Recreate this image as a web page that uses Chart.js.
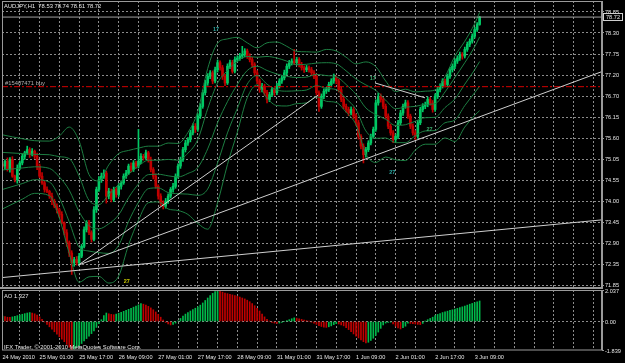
<!DOCTYPE html>
<html>
<head>
<meta charset="utf-8">
<script src="https://cdn.jsdelivr.net/npm/chart.js@4.4.1/dist/chart.umd.min.js"></script>
<style>
  body { margin: 0; background: #000; width: 625px; height: 363px; overflow: hidden; position: relative; }
  canvas { position: absolute; left: 0; }
  #priceChart { top: 0; }
  #aoChart { top: 289px; }
</style>
</head>
<body>
<canvas id="priceChart" width="625" height="289"></canvas>
<canvas id="aoChart" width="625" height="74"></canvas>
<script>
// AUDJPY H1, one entry per hourly bar (bar 0 = 24 May 2010 10:00)
const opens = [
  74.95,74.90,75.02,74.81,75.07,74.64,74.55,74.85,74.98,75.15,
  75.24,75.32,75.19,75.28,75.15,74.90,74.64,74.47,74.30,74.25,
  74.13,74.00,73.87,73.78,73.66,73.44,73.19,72.93,72.67,72.42,
  72.50,72.42,72.59,72.84,73.27,73.44,73.19,73.02,73.78,74.30,
  74.55,74.64,74.72,74.13,74.25,74.04,74.30,74.17,74.38,74.47,
  74.64,74.72,74.90,74.81,74.98,74.90,75.02,75.15,75.11,75.24,
  75.07,74.81,74.64,74.38,74.13,73.95,73.87,74.00,74.13,74.30,
  74.38,74.64,74.90,75.07,75.32,75.49,75.58,75.75,75.92,75.84,
  76.18,76.43,76.78,77.03,77.20,77.29,77.08,77.37,77.55,77.42,
  77.20,77.03,77.46,77.55,77.33,77.63,77.67,77.72,77.76,77.85,
  77.72,77.63,77.50,77.29,77.08,76.86,76.95,76.78,76.61,76.73,
  76.86,76.78,76.95,77.08,77.16,77.29,77.46,77.55,77.59,77.55,
  77.63,77.50,77.42,77.37,77.42,77.37,77.29,77.20,76.78,76.43,
  76.69,76.82,76.86,76.99,77.08,77.16,77.08,76.86,76.61,76.43,
  76.35,76.26,76.35,76.18,76.01,75.66,75.41,75.19,75.32,75.49,
  75.66,75.84,76.52,76.69,76.61,76.43,76.18,75.92,75.75,75.58,
  75.66,76.01,76.26,76.43,76.52,76.18,75.92,75.75,75.66,76.01,
  76.35,76.43,76.48,76.61,76.52,76.35,76.69,76.86,76.95,77.08,
  76.99,77.20,77.37,77.46,77.59,77.67,77.76,77.72,77.89,78.02,
  78.10,78.23,78.40,78.53
];
const highs = [
  75.01,75.06,75.11,75.12,75.14,74.67,74.93,75.03,75.21,75.28,
  75.41,75.37,75.35,75.31,75.23,74.95,74.73,74.52,74.37,74.28,
  74.21,74.05,73.93,73.82,73.73,73.47,73.27,72.98,72.73,72.56,
  72.58,72.66,72.89,73.34,73.50,73.51,73.24,73.86,74.36,74.63,
  74.72,74.80,74.77,74.33,74.31,74.36,74.35,74.45,74.52,74.70,
  74.79,74.95,74.98,75.04,75.03,75.84,75.22,75.20,75.31,75.28,
  75.13,74.86,74.70,74.42,74.19,74.01,74.07,74.19,74.35,74.46,
  74.70,74.96,75.13,75.38,75.56,75.63,75.82,75.98,75.99,76.24,
  76.50,76.85,77.10,77.27,77.35,77.34,77.44,77.62,77.60,77.48,
  77.25,77.52,77.62,77.61,77.70,77.73,77.79,77.97,77.91,77.90,
  77.78,77.69,77.55,77.35,77.13,77.02,77.00,76.84,76.79,76.92,
  76.91,77.02,77.14,77.22,77.36,77.52,77.61,77.65,77.89,77.69,
  77.68,77.56,77.47,77.48,77.47,77.43,77.35,77.26,76.83,76.75,
  76.88,76.92,77.05,77.14,77.26,77.21,77.13,76.92,76.67,76.49,
  76.41,76.42,76.40,76.24,76.07,75.71,75.47,75.38,75.55,75.72,
  75.90,76.60,76.77,76.75,76.66,76.49,76.24,75.97,75.81,75.72,
  76.07,76.33,76.49,76.59,76.58,76.23,75.98,75.81,76.07,76.41,
  76.50,76.54,76.67,76.66,76.58,76.75,76.92,77.01,77.14,77.13,
  77.26,77.43,77.52,77.65,77.73,77.82,77.81,77.95,78.08,78.16,
  78.29,78.46,78.58,78.74
];
const lows = [
  74.85,74.82,74.77,74.74,74.61,74.49,74.46,74.81,74.93,75.07,
  75.20,75.12,75.16,75.09,74.81,74.60,74.43,74.23,74.22,74.07,
  73.91,73.83,73.70,73.59,73.41,73.13,72.84,72.58,72.12,72.33,
  72.36,72.36,72.55,72.80,73.21,73.14,72.95,72.98,73.71,74.25,
  74.48,74.58,73.95,74.06,73.98,73.99,74.10,74.12,74.31,74.43,
  74.58,74.68,74.75,74.76,74.84,74.85,74.96,75.05,75.07,75.00,
  74.75,74.57,74.33,74.05,73.88,73.80,73.82,73.94,74.08,74.23,
  74.33,74.59,74.84,75.02,75.26,75.43,75.52,75.70,75.76,75.79,
  76.12,76.38,76.72,76.97,77.14,77.01,77.03,77.31,77.36,77.12,
  76.96,76.99,77.40,77.28,77.29,77.57,77.61,77.66,77.70,77.66,
  77.57,77.44,77.22,77.01,76.79,76.80,76.71,76.52,76.55,76.68,
  76.71,76.73,76.90,77.02,77.11,77.24,77.40,77.49,77.50,77.49,
  77.44,77.36,77.30,77.32,77.31,77.23,77.14,76.72,76.30,76.38,
  76.63,76.76,76.81,76.93,77.02,77.01,76.80,76.55,76.37,76.28,
  76.19,76.21,76.11,75.94,75.59,75.34,74.98,75.13,75.27,75.44,
  75.61,75.79,76.46,76.54,76.37,76.12,75.86,75.69,75.50,75.52,
  75.60,75.96,76.20,76.38,76.12,75.86,75.69,75.58,75.61,75.96,
  76.29,76.37,76.42,76.46,76.28,76.30,76.63,76.80,76.90,76.92,
  76.94,77.15,77.31,77.40,77.53,77.61,77.64,77.67,77.84,77.96,
  78.05,78.18,78.35,78.51
];
const closes = [
  74.90,75.02,74.81,75.07,74.64,74.55,74.85,74.98,75.15,75.24,
  75.32,75.19,75.28,75.15,74.90,74.64,74.47,74.30,74.25,74.13,
  74.00,73.87,73.78,73.66,73.44,73.19,72.93,72.67,72.42,72.50,
  72.42,72.59,72.84,73.27,73.44,73.19,73.02,73.78,74.30,74.55,
  74.64,74.72,74.13,74.25,74.04,74.30,74.17,74.38,74.47,74.64,
  74.72,74.90,74.81,74.98,74.90,75.02,75.15,75.11,75.24,75.07,
  74.81,74.64,74.38,74.13,73.95,73.87,74.00,74.13,74.30,74.38,
  74.64,74.90,75.07,75.32,75.49,75.58,75.75,75.92,75.84,76.18,
  76.43,76.78,77.03,77.20,77.29,77.08,77.37,77.55,77.42,77.20,
  77.03,77.46,77.55,77.33,77.63,77.67,77.72,77.76,77.85,77.72,
  77.63,77.50,77.29,77.08,76.86,76.95,76.78,76.61,76.73,76.86,
  76.78,76.95,77.08,77.16,77.29,77.46,77.55,77.59,77.55,77.63,
  77.50,77.42,77.37,77.42,77.37,77.29,77.20,76.78,76.43,76.69,
  76.82,76.86,76.99,77.08,77.16,77.08,76.86,76.61,76.43,76.35,
  76.26,76.35,76.18,76.01,75.66,75.41,75.19,75.32,75.49,75.66,
  75.84,76.52,76.69,76.61,76.43,76.18,75.92,75.75,75.58,75.66,
  76.01,76.26,76.43,76.52,76.18,75.92,75.75,75.66,76.01,76.35,
  76.43,76.48,76.61,76.52,76.35,76.69,76.86,76.95,77.08,76.99,
  77.20,77.37,77.46,77.59,77.67,77.76,77.72,77.89,78.02,78.10,
  78.23,78.40,78.53,78.72
];

// Awesome Oscillator, one value per bar
const aoValues = [
  0.36,0.32,0.28,0.27,0.30,0.34,0.38,0.42,0.47,0.51,
  0.55,0.58,0.55,0.50,0.42,0.30,0.15,-0.02,-0.18,-0.34,
  -0.50,-0.66,-0.82,-0.98,-1.14,-1.30,-1.48,-1.66,-1.84,-1.78,
  -1.68,-1.56,-1.42,-1.26,-1.10,-0.94,-0.78,-0.60,-0.38,-0.14,
  0.12,0.38,0.55,0.50,0.46,0.44,0.48,0.54,0.60,0.66,
  0.72,0.79,0.86,0.93,1.00,1.08,1.16,1.12,1.06,0.98,
  0.88,0.76,0.62,0.46,0.28,0.10,-0.06,-0.16,-0.22,-0.18,
  -0.10,0.05,0.20,0.36,0.48,0.58,0.68,0.78,0.86,0.95,
  1.06,1.20,1.36,1.52,1.68,1.82,1.94,2.037,1.96,1.90,
  1.84,1.80,1.76,1.72,1.68,1.64,1.58,1.52,1.46,1.38,
  1.28,1.16,1.02,0.86,0.68,0.48,0.30,0.14,0.02,-0.06,
  -0.10,-0.12,-0.10,-0.06,0.00,0.06,0.12,0.18,0.24,0.22,
  0.18,0.14,0.10,0.06,0.02,-0.04,-0.10,-0.18,-0.26,-0.32,
  -0.36,-0.38,-0.34,-0.28,-0.20,-0.14,-0.16,-0.22,-0.28,-0.40,
  -0.52,-0.66,-0.80,-0.94,-1.06,-1.18,-1.30,-1.38,-1.34,-1.22,
  -1.08,-0.90,-0.68,-0.44,-0.22,-0.10,-0.06,-0.04,-0.16,-0.30,
  -0.42,-0.48,-0.40,-0.30,-0.10,-0.12,-0.14,-0.16,-0.18,-0.20,
  -0.12,0.02,0.12,0.20,0.28,0.38,0.46,0.52,0.58,0.63,
  0.67,0.72,0.76,0.80,0.85,0.90,0.95,1.00,1.06,1.12,
  1.17,1.22,1.28,1.327
];

// Bollinger lines (middle, +-1 and +-2 deviations), read at these bars
const bandBars = [0,8,13,19,23,27,31,35,39,43,47,51,55,59,63,67,71,75,79,83,87,91,95,99,103,107,111,115,119,123,127,131,135,139,143,147,151,155,159,163,167,171,175,179,183,187,191,193];
const bandMiddle = [74.80,74.85,74.88,74.84,74.62,74.28,73.73,73.37,73.29,73.42,73.65,74.09,74.44,74.68,74.69,74.65,74.62,74.71,74.86,75.34,76.01,76.55,76.99,77.35,77.46,77.35,77.26,77.20,77.17,77.18,77.25,77.22,77.19,76.99,76.74,76.39,76.22,76.10,75.94,75.96,76.05,76.14,76.15,76.40,76.62,77.00,77.37,77.58];
const bandUpper1 = [75.25,75.22,75.20,75.19,75.14,75.09,74.64,74.02,73.91,74.17,74.43,74.69,74.90,75.05,75.05,75.07,75.05,75.23,75.58,76.37,77.03,77.35,77.59,77.71,77.69,77.71,77.67,77.59,77.50,77.51,77.54,77.55,77.52,77.34,77.13,76.98,76.84,76.59,76.37,76.41,76.43,76.48,76.50,76.80,77.17,77.55,77.96,78.21];
const bandUpper2 = [75.70,75.60,75.55,75.54,75.67,75.90,75.54,74.68,74.52,74.93,75.22,75.30,75.36,75.41,75.41,75.49,75.48,75.76,76.30,77.40,78.05,78.16,78.20,78.06,77.93,78.06,78.08,77.97,77.84,77.83,77.82,77.89,77.85,77.69,77.52,77.57,77.45,77.08,76.81,76.87,76.80,76.82,76.85,77.19,77.72,78.10,78.55,78.84];
const bandLower1 = [74.30,74.45,74.55,74.49,74.09,73.47,72.82,72.72,72.68,72.66,72.87,73.48,73.97,74.32,74.34,74.22,74.19,74.18,74.15,74.31,74.98,75.75,76.38,77.00,77.22,77.00,76.85,76.82,76.83,76.85,76.96,76.89,76.86,76.63,76.35,75.80,75.61,75.62,75.50,75.50,75.68,75.80,75.81,76.01,76.08,76.45,76.78,76.95];
const bandLower2 = [73.80,74.05,74.20,74.14,73.57,72.66,71.92,72.06,72.07,71.90,72.08,72.88,73.51,73.96,73.98,73.80,73.76,73.66,73.43,73.28,73.96,74.94,75.77,76.65,76.98,76.64,76.45,76.44,76.50,76.52,76.68,76.56,76.53,76.28,75.96,75.21,74.99,75.13,75.06,75.04,75.31,75.46,75.46,75.62,75.53,75.90,76.20,76.32];

// trend lines: [bar, price] ends
const trendLines = [
  [[-0.2, 72.04], [242.5, 73.52]],
  [[30.7, 72.36], [127.7, 76.72]],
  [[30.7, 72.36], [242.4, 77.32]],
  [[150.7, 77.03], [170.9, 76.65]]
];

const orderPrice = 76.935;
const orderLabel = '#15407471 buy';
const lastPrice = 78.72;

// little numbered marks on the chart
const markBars = [86.4, 149.8, 157.7, 172.7, 50.3];
const markPrices = [78.41, 77.15, 74.74, 75.85, 71.93];
const markTexts = ['17', '17', '27', '27', '27'];

// axes
const priceTicks = [78.85,78.3115,77.773,77.2345,76.696,76.1575,75.619,75.0805,74.542,74.0035,73.465,72.9265,72.388,71.8495];
const priceLabels = ['78.85','78.30','77.75','77.20','76.70','76.15','75.60','75.05','74.55','74.00','73.45','72.90','72.35','71.85'];
const gridBars = [7,15,23,31,39,47,55,63,71,79,87,95,103,111,119,127,135,143,151,159,167,175,183,191,199,207,215,223,231,239];
const timeBars = [0,15,31,47,63,79,95,111,127,143,159,175,191];
const timeLabels = ['24 May 2010','25 May 01:00','25 May 17:00','26 May 09:00','27 May 01:00','27 May 17:00','28 May 09:00','31 May 01:00','31 May 17:00','1 Jun 09:00','2 Jun 01:00','2 Jun 17:00','3 Jun 09:00'];
const aoTicks = [2.037, 0, -1.839];
const aoLabels = ['2.037', '0.00', '-1.839'];

const X_MIN = -0.2, X_MAX = 242.5;
const BULL = '#00c864', BEAR = '#c00000';
const BAND = '#1d7e42', TREND = '#cfcfcf';
const GRID = '#8c8c8c', FRAME = '#9a9a9a', TEXT = '#e6e6e6';
const FONT = '"Liberation Sans", Arial, sans-serif';

const candleColors = closes.map((c, i) => c >= opens[i] ? BULL : BEAR);
const wickData = closes.map((c, i) => ({x: i, y: [lows[i], highs[i]]}));
const bodyData = closes.map((c, i) => ({x: i, y: [opens[i], c]}));

function bandSet(values) {
  return {
    type: 'line',
    data: bandBars.map((b, k) => ({x: b, y: values[k]})),
    borderColor: BAND, borderWidth: 1, pointRadius: 0, cubicInterpolationMode: 'monotone', order: 2
  };
}
function straight(points, color, dash, order) {
  return {
    type: 'line',
    data: points.map(p => ({x: p[0], y: p[1]})),
    borderColor: color, borderWidth: 1, borderDash: dash, pointRadius: 0, order: order
  };
}
// drop the half-label padding chart.js adds around the axes
function noPad(s) {
  s.paddingTop = 0; s.paddingBottom = 0; s.paddingLeft = 0; s.paddingRight = 0;
}

const priceOverlay = {
  id: 'priceOverlay',
  afterDraw(chart) {
    const {ctx, chartArea: a, scales: {x, y}} = chart;
    ctx.save();
    ctx.strokeStyle = FRAME;
    ctx.lineWidth = 1;
    ctx.strokeRect(a.left + 0.5, a.top + 0.5, a.right - a.left - 1, a.bottom - a.top);
    ctx.fillStyle = FRAME;
    ctx.fillRect(0, a.bottom - 1, a.right, 2);

    ctx.font = '5.8px ' + FONT;
    ctx.textBaseline = 'middle';
    ctx.fillStyle = TEXT;
    const last = closes.length - 1;
    ctx.fillText('AUDJPY,H1  ' + [opens[last], highs[last], lows[last], closes[last]].map(v => v.toFixed(2)).join(' '), 4, 6);

    ctx.fillStyle = '#b0b0b0';
    ctx.fillText(orderLabel, 5, y.getPixelForValue(orderPrice) - 3);

    const markColors = ['#2aa8a0', '#3aa86a', '#2aa8a0', '#3aa86a', '#c8c800'];
    ctx.font = 'bold 5.5px ' + FONT;
    ctx.textAlign = 'center';
    markBars.forEach((b, k) => {
      ctx.fillStyle = markColors[k];
      ctx.fillText(markTexts[k], x.getPixelForValue(b), y.getPixelForValue(markPrices[k]));
    });

    // last price tag on the axis
    const py = Math.round(y.getPixelForValue(lastPrice));
    ctx.fillStyle = '#000';
    ctx.fillRect(a.right + 1, py - 4, 20, 8);
    ctx.strokeStyle = '#d0d0d0';
    ctx.strokeRect(a.right + 1.5, py - 3.5, 19, 7);
    ctx.fillStyle = TEXT;
    ctx.textAlign = 'left';
    ctx.font = '5.6px ' + FONT;
    ctx.fillText(lastPrice.toFixed(2), a.right + 4, py + 0.5);
    ctx.restore();
  }
};

new Chart(document.getElementById('priceChart'), {
  type: 'bar',
  data: {
    datasets: [
      ...trendLines.map(t => straight(t, TREND, [], 0)),
      straight([[X_MIN, orderPrice], [X_MAX, orderPrice]], '#d40000', [6, 2, 2, 2], 1),
      straight([[X_MIN, lastPrice], [X_MAX, lastPrice]], '#a0a0a0', [], 1),
      bandSet(bandUpper2), bandSet(bandUpper1), bandSet(bandMiddle), bandSet(bandLower1), bandSet(bandLower2),
      { data: bodyData, backgroundColor: candleColors, barThickness: 2, grouped: false, minBarLength: 1, order: 3 },
      { data: wickData, backgroundColor: candleColors, barThickness: 1, grouped: false, order: 4 }
    ]
  },
  options: {
    responsive: false, animation: false,
    layout: { padding: { left: 2, top: 1, bottom: 1, right: 0 } },
    plugins: { legend: { display: false }, tooltip: { enabled: false } },
    scales: {
      x: {
        type: 'linear', min: X_MIN, max: X_MAX, offset: false,
        afterBuildTicks: s => { s.ticks = gridBars.map(v => ({ value: v })); },
        ticks: { display: false },
        grid: { color: GRID, drawTicks: false, offset: false },
        border: { display: false, dash: [2, 2] },
        afterFit: s => { s.height = 0; noPad(s); }
      },
      y: {
        position: 'right', min: 71.773, max: 79.132,
        afterBuildTicks: s => { s.ticks = priceTicks.map(v => ({ value: v })); },
        ticks: {
          color: TEXT, font: { family: FONT, size: 5.6 }, padding: 1, crossAlign: 'near', autoSkip: false,
          callback: (v, i) => priceLabels[i]
        },
        grid: { color: GRID, tickLength: 2, tickColor: FRAME },
        border: { color: FRAME, dash: [2, 2] },
        afterFit: s => { s.width = 23; noPad(s); }
      }
    }
  },
  plugins: [priceOverlay]
});

const aoOverlay = {
  id: 'aoOverlay',
  afterDraw(chart) {
    const {ctx, chartArea: a} = chart;
    ctx.save();
    ctx.strokeStyle = FRAME;
    ctx.lineWidth = 1;
    ctx.strokeRect(a.left + 0.5, a.top + 0.5, a.right - a.left - 1, a.bottom - a.top - 0.5);
    ctx.font = '5.8px ' + FONT;
    ctx.fillStyle = TEXT;
    ctx.textBaseline = 'middle';
    ctx.fillText('AO ' + aoValues[aoValues.length - 1].toFixed(3), 4, a.top + 6);
    ctx.fillText('IFX Trader, \u00a9 2001-2010 MetaQuotes Software Corp.', 4, a.bottom - 3);
    ctx.restore();
  }
};

const aoColors = aoValues.map((v, i) => (i === 0 || v >= aoValues[i - 1]) ? '#00b84a' : '#c00000');

new Chart(document.getElementById('aoChart'), {
  type: 'bar',
  data: {
    datasets: [{ data: aoValues.map((v, i) => ({x: i, y: v})), backgroundColor: aoColors, barThickness: 1 }]
  },
  options: {
    responsive: false, animation: false,
    layout: { padding: { left: 2, top: 1, bottom: 0, right: 0 } },
    plugins: { legend: { display: false }, tooltip: { enabled: false } },
    scales: {
      x: {
        type: 'linear', min: X_MIN, max: X_MAX, offset: false,
        afterBuildTicks: s => { s.ticks = gridBars.concat([0]).sort((p, q) => p - q).map(v => ({ value: v })); },
        ticks: {
          color: TEXT, font: { family: FONT, size: 5.6 }, align: 'start', padding: 4,
          autoSkip: false, maxRotation: 0, minRotation: 0,
          callback: v => { const k = timeBars.indexOf(v); return k >= 0 ? timeLabels[k] : ''; }
        },
        grid: { color: c => c.tick && c.tick.value === 0 ? 'rgba(0,0,0,0)' : GRID, drawTicks: false, offset: false },
        border: { display: false, dash: [2, 2] },
        afterFit: s => { s.height = 13; noPad(s); }
      },
      y: {
        position: 'right', min: -1.839, max: 2.037,
        afterBuildTicks: s => { s.ticks = aoTicks.map(v => ({ value: v })); },
        ticks: {
          color: TEXT, font: { family: FONT, size: 5.6 }, padding: 1, crossAlign: 'near', autoSkip: false,
          labelOffset: 1, callback: (v, i) => aoLabels[i]
        },
        grid: { color: c => c.tick && c.tick.value === 0 ? GRID : 'rgba(0,0,0,0)', tickLength: 2, tickColor: FRAME },
        border: { color: FRAME, dash: [2, 2] },
        afterFit: s => { s.width = 23; noPad(s); }
      }
    }
  },
  plugins: [aoOverlay]
});
</script>
</body>
</html>
